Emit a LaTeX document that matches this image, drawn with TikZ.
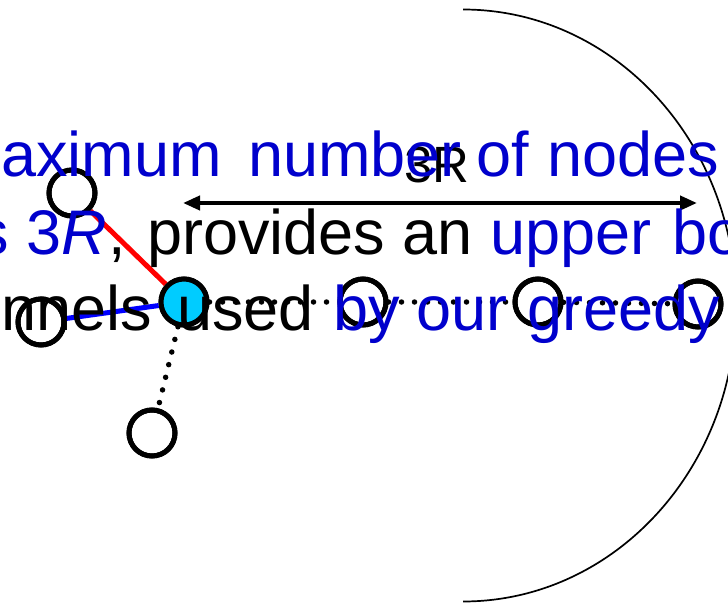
\documentclass[tikz,border=0pt]{standalone}
\usepackage{fontspec}
\setmainfont{Liberation Sans}
\usetikzlibrary{arrows.meta}
\definecolor{txtblue}{RGB}{0,0,204}
\definecolor{linkblue}{RGB}{0,0,255}
\definecolor{nodecyan}{RGB}{0,204,255}
\begin{document}
\begin{tikzpicture}[x=1pt,y=-1pt,
  nd/.style={circle,draw=black,line width=5pt,minimum size=46pt,inner sep=0pt},
  wd/.style={anchor=base west,inner sep=0pt,font=\fontsize{63}{70}\selectfont},
  bw/.style={wd,text=txtblue},
  kw/.style={wd,text=black},
  dotline/.style={line width=5.5pt,line cap=round,dash pattern=on 0pt off 13pt},
]
\useasboundingbox (0,0) rectangle (728,604);
\clip (0,0) rectangle (728,604);

% big half-ellipse
\draw[line width=1.7pt] (463,9.5) arc[start angle=90, end angle=-90, x radius=273pt, y radius=296pt];

% nodes
\node[nd] (A) at (72,193) {};
\node[nd] (B) at (41,322) {};
\node[nd,fill=nodecyan] (C) at (184,302) {};
\node[nd] (D) at (152,433) {};
\node[nd] (E) at (363,302) {};
\node[nd] (F) at (538,302) {};
\node[nd] (G) at (698,304) {};

% connectors
\draw[red,line width=5pt] (A) -- (C);
\draw[linkblue,line width=5pt] (B) -- (C);
\draw[dotline] (C) -- (E);
\draw[dotline] (E) -- (F);
\draw[dotline] (F) -- (G);
\draw[dotline] (C) -- (D);

% redraw nodes on top of connectors
\node[nd] at (A) {};
\node[nd] at (B) {};
\node[nd,fill=nodecyan] at (C) {};
\node[nd] at (D) {};
\node[nd] at (E) {};
\node[nd] at (F) {};
\node[nd] at (G) {};

% 3R arrow
\coordinate (ar1) at (183,203);
\coordinate (ar2) at (697,203);
\draw[line width=4pt,{Triangle[length=17pt,width=14pt]}-{Triangle[length=17pt,width=14pt]}] (ar1) -- (ar2);
\node[anchor=base,inner sep=0pt,font=\fontsize{51}{60}\selectfont] (lbl) at (437,183) {3R};

% line 1
\node[bw] (t1a) at (1,177) {aximum};
\node[bw] (t1b) at (248,177) {number};
\node[bw] (t1c) at (476,177) {of};
\node[bw] (t1d) at (547,177) {nodes};
% line 2
\node[bw] (t2a) at (-23,254) {s 3\textit{R}};
\node[kw] (t2b) at (108,254) {,};
\node[kw] (t2c) at (147,254) {provides};
\node[kw] (t2d) at (402,254) {an};
\node[bw] (t2e) at (490,254) {upper};
\node[bw] (t2f) at (672,254) {bo};
% line 3
\node[kw] (t3a) at (1,330) {nnels};
\node[kw] (t3b) at (177,330) {used};
\node[bw] (t3c) at (333,330) {by};
\node[bw] (t3d) at (416,330) {our};
\node[bw] (t3e) at (527,330) {greedy};
\end{tikzpicture}
\end{document}
